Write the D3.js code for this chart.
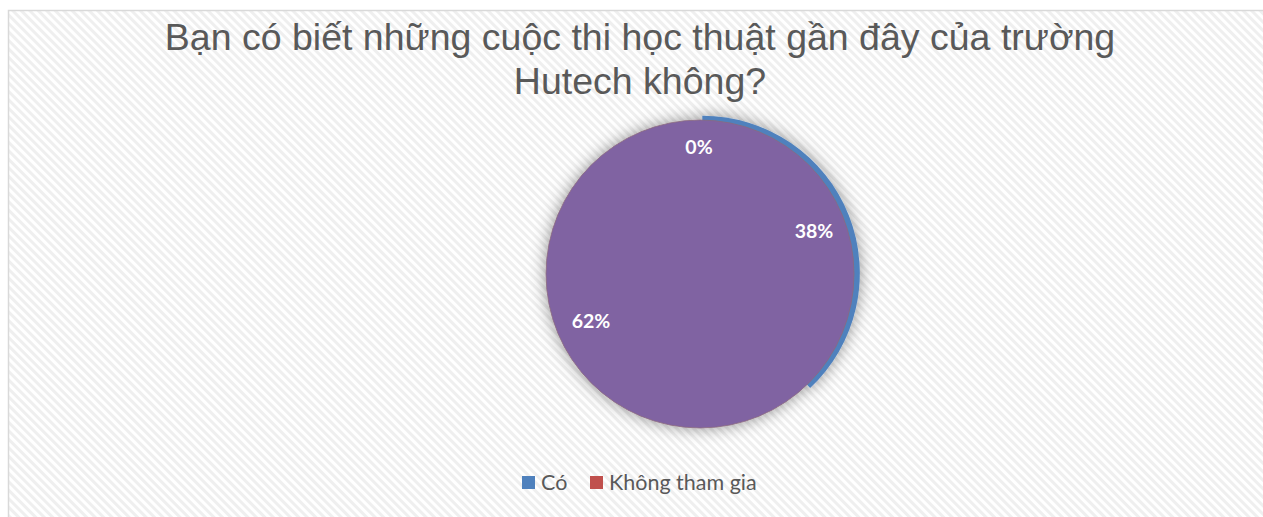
<!DOCTYPE html>
<html><head><meta charset="utf-8">
<script src="https://cdn.jsdelivr.net/npm/d3@7"></script>
<style>html,body{margin:0;padding:0;background:#fff;}svg{display:block;}</style>
</head><body>
<svg id="c" width="1263" height="517"></svg>
<script>
const titleLines = ["Bạn có biết những cuộc thi học thuật gần đây của trường", "Hutech không?"];
const categories = ["Có", "Không tham gia", "Khác"];
const values = [38, 0, 62];
const colors = ["#4f81bd", "#c0504d", "#8064a2"];
const legendCats = ["Có", "Không tham gia"];

const W = 1263, H = 517;
const svg = d3.select("#c");
const defs = svg.append("defs");
const pat = defs.append("pattern").attr("id","hatch").attr("patternUnits","userSpaceOnUse")
  .attr("width",6).attr("height",6).attr("patternTransform","rotate(-45)");
pat.append("rect").attr("width",6).attr("height",6).attr("fill","#ffffff");
pat.append("rect").attr("width",3).attr("height",6).attr("fill","#efefef");
const f = defs.append("filter").attr("id","sh").attr("x","-30%").attr("y","-30%").attr("width","160%").attr("height","160%");
f.append("feGaussianBlur").attr("in","SourceAlpha").attr("stdDeviation",8).attr("result","b");
f.append("feFlood").attr("flood-color","#000").attr("flood-opacity",0.42);
f.append("feComposite").attr("in2","b").attr("operator","in").attr("result","s");
const m = f.append("feMerge"); m.append("feMergeNode").attr("in","s"); m.append("feMergeNode").attr("in","SourceGraphic");

svg.append("rect").attr("x",8.5).attr("y",10.5).attr("width",W).attr("height",H).attr("fill","url(#hatch)")
  .attr("stroke","#d9d9d9").attr("stroke-width",1.5);

svg.append("text").attr("text-anchor","middle").attr("font-family","Liberation Sans, Arial, sans-serif")
  .attr("font-size",37.5).attr("fill","#595959")
  .selectAll("tspan").data(titleLines).join("tspan").attr("x",640).attr("y",(d,i)=>50+i*44).text(d=>d);

const cx = 700, cy = 274, r = 154;
const pie = d3.pie().sort(null).value(d=>d)(values);
const g = svg.append("g").attr("transform",`translate(${cx},${cy})`);
const gs = g.append("g").attr("filter","url(#sh)");
// underlying slice (Excel rendering artefact: blue edge peeks out)
const arcBig = d3.arc().innerRadius(0).outerRadius(r+3.5);
const blue = pie[0];
const mid = (blue.startAngle+blue.endAngle)/2;
gs.append("path").attr("d",arcBig(blue)).attr("fill",colors[0])
  .attr("transform",`translate(${2.5*Math.sin(mid)},${-2*Math.cos(mid)})`);
// the purple series fills the whole disc on top
const arcFull = d3.arc().innerRadius(0).outerRadius(r);
gs.append("path").attr("d",arcFull({startAngle:0,endAngle:2*Math.PI})).attr("fill",colors[2])
  .attr("stroke","#8a6a7e").attr("stroke-width",0.8);

const lblOff = [[114,-44],[-1,-128],[-109,46]];
g.selectAll("text.l").data(pie).join("text").attr("class","l")
  .attr("x",(d,i)=>lblOff[i][0]).attr("y",(d,i)=>lblOff[i][1])
  .attr("text-anchor","middle").attr("dominant-baseline","central")
  .attr("font-family","Lato, Open Sans, sans-serif").attr("font-weight","bold").attr("font-size",19.5)
  .attr("fill","#fff").text(d=>Math.round(d.data/d3.sum(values)*100)+"%");

// legend
const lg = svg.append("g").attr("font-family","Lato, Open Sans, sans-serif").attr("font-size",21.5).attr("fill","#595959");
const items = [{x:522, c:colors[0], t:legendCats[0]}, {x:590, c:colors[1], t:legendCats[1]}];
items.forEach(it=>{
  lg.append("rect").attr("x",it.x).attr("y",476).attr("width",13).attr("height",13).attr("fill",it.c);
  lg.append("text").attr("x",it.x+19).attr("y",490).text(it.t);
});
</script>
</body></html>
